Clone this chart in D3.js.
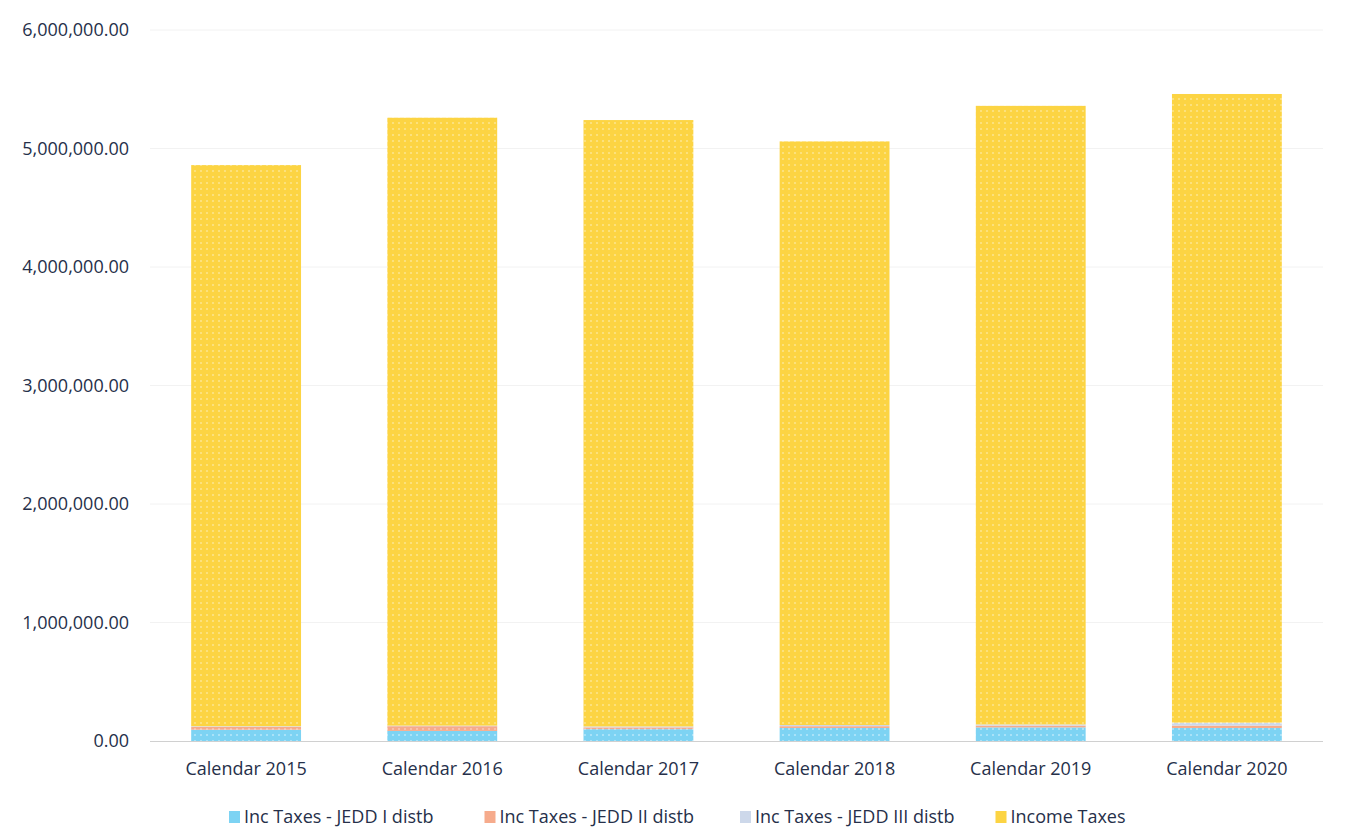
<!DOCTYPE html>
<html>
<head>
<meta charset="utf-8">
<script src="https://cdn.jsdelivr.net/npm/d3@7"></script>
<style>
  body { margin: 0; background: #fff; }
  svg { font-family: "Open Sans", sans-serif; }
</style>
</head>
<body>
<svg id="chart"></svg>
<script>
var width = 1351, height = 831;

// data
var categories = ["Calendar 2015", "Calendar 2016", "Calendar 2017", "Calendar 2018", "Calendar 2019", "Calendar 2020"];
var seriesNames = ["Inc Taxes - JEDD I distb", "Inc Taxes - JEDD II distb", "Inc Taxes - JEDD III distb", "Income Taxes"];
var jedd1 = [95000, 85000, 100000, 110000, 115000, 110000];
var jedd2 = [25000, 40000, 15000, 15000, 15000, 20000];
var jedd3 = [5000, 5000, 8000, 10000, 10000, 25000];
var incomeTaxes = [4735000, 5130000, 5117000, 4925000, 5220000, 5305000];
var yTicks = [0, 1000000, 2000000, 3000000, 4000000, 5000000, 6000000];

var colors = ["#7dd3f3", "#f6ab8c", "#cdd8ea", "#fcd443"];
var dots = ["#b4e6fa", "#fac8b4", "#e6edf6", "#fde58a"];

var margin = {top: 30, right: 28, bottom: 90, left: 150};

var svg = d3.select("#chart")
  .attr("width", width)
  .attr("height", height);

// dotted fill like the printed chart
var defs = svg.append("defs");
colors.forEach(function(c, i) {
  var p = defs.append("pattern")
    .attr("id", "pat" + i)
    .attr("patternUnits", "userSpaceOnUse")
    .attr("width", 6).attr("height", 6);
  p.append("rect").attr("width", 6).attr("height", 6).attr("fill", c);
  p.append("circle").attr("cx", 3).attr("cy", 3).attr("r", 1.1).attr("fill", dots[i]);
});

var table = categories.map(function(c, i) {
  return {cat: c, s0: jedd1[i], s1: jedd2[i], s2: jedd3[i], s3: incomeTaxes[i]};
});
var stack = d3.stack().keys(["s0", "s1", "s2", "s3"])(table);

var x = d3.scaleBand()
  .domain(categories)
  .range([margin.left, width - margin.right])
  .paddingInner(0.44)
  .paddingOuter(0.21);

var y = d3.scaleLinear()
  .domain([0, 6000000])
  .range([height - margin.bottom, margin.top]);

// gridlines
svg.append("g")
  .selectAll("line")
  .data(yTicks.slice(1))
  .enter().append("line")
  .attr("x1", margin.left).attr("x2", width - margin.right)
  .attr("y1", function(d){ return y(d); })
  .attr("y2", function(d){ return y(d); })
  .attr("stroke", "#f2f2f2")
  .attr("stroke-width", 1);

// y axis labels
var yAxis = d3.axisLeft(y)
  .tickValues(yTicks)
  .tickSize(0)
  .tickPadding(0)
  .tickFormat(d3.format(",.2f"));

svg.append("g")
  .attr("transform", "translate(129,0)")
  .call(yAxis)
  .call(function(g){ g.select(".domain").remove(); })
  .selectAll("text")
  .attr("font-size", 18)
  .attr("font-family", "Open Sans")
  .attr("fill", "#26304a");

// bars
svg.append("g")
  .selectAll("g")
  .data(stack)
  .enter().append("g")
  .attr("fill", function(d, i){ return "url(#pat" + i + ")"; })
  .selectAll("rect")
  .data(function(d){ return d; })
  .enter().append("rect")
  .attr("x", function(d){ return x(d.data.cat); })
  .attr("width", x.bandwidth())
  .attr("y", function(d){ return y(d[1]); })
  .attr("height", function(d){ return y(d[0]) - y(d[1]); });

// baseline
svg.append("line")
  .attr("x1", margin.left).attr("x2", width - margin.right)
  .attr("y1", y(0) + 0.5).attr("y2", y(0) + 0.5)
  .attr("stroke", "#d0d0d0");

// x axis labels
var xAxis = d3.axisBottom(x).tickSize(0).tickPadding(21);
svg.append("g")
  .attr("transform", "translate(0," + y(0) + ")")
  .call(xAxis)
  .call(function(g){ g.select(".domain").remove(); })
  .selectAll("text")
  .attr("font-size", 18)
  .attr("font-family", "Open Sans")
  .attr("fill", "#26304a");

// legend
var legend = svg.append("g")
  .attr("transform", "translate(229,817)");

var item = legend.selectAll("g")
  .data(seriesNames)
  .enter().append("g")
  .attr("transform", function(d, i){ return "translate(" + (i * 255.5) + ",0)"; });

item.append("rect")
  .attr("x", 0).attr("y", -6)
  .attr("width", 11).attr("height", 12)
  .attr("fill", function(d, i){ return colors[i]; });

item.append("text")
  .attr("x", 15)
  .attr("dy", "0.35em")
  .attr("font-size", 18)
  .attr("fill", "#26304a")
  .text(function(d){ return d; });
</script>
</body>
</html>
